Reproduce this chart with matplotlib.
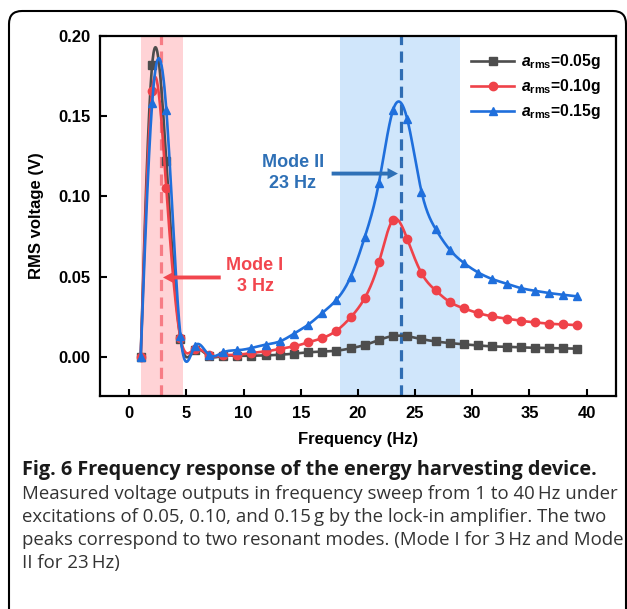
import numpy as np
import matplotlib
matplotlib.use('Agg')
import matplotlib.pyplot as plt
from matplotlib.patches import FancyBboxPatch

# frequency sweep points (Hz)
freq = [1.0, 2.0, 3.24, 4.48, 5.72, 6.96, 8.2, 9.44, 10.68, 11.92, 13.16,
        14.4, 15.64, 16.88, 18.12, 19.36, 20.6, 21.84, 23.08, 24.32, 25.56,
        26.8, 28.04, 29.28, 30.52, 31.76, 33.0, 34.24, 35.48, 36.72, 37.96,
        39.2]

# RMS voltage (V) for each excitation level
v_005 = [0.0, 0.182, 0.122, 0.011, 0.004, 0.0004, 0.0005, 0.0006, 0.0006,
         0.0008, 0.0012, 0.0019, 0.0027, 0.0032, 0.0037, 0.0052, 0.0073,
         0.0104, 0.0129, 0.0127, 0.0110, 0.0095, 0.0085, 0.0077, 0.0070,
         0.0064, 0.0062, 0.0058, 0.0056, 0.0054, 0.0052, 0.0050]
v_010 = [0.0, 0.166, 0.105, 0.0116, 0.0048, 0.001, 0.0008, 0.0012, 0.0023,
         0.0033, 0.0048, 0.0064, 0.0089, 0.0116, 0.0162, 0.0245, 0.0366,
         0.0588, 0.0854, 0.0733, 0.0521, 0.0413, 0.0341, 0.0301, 0.0272,
         0.0251, 0.0237, 0.0224, 0.0214, 0.0206, 0.0201, 0.0197]
v_015 = [0.0, 0.158, 0.154, 0.0127, 0.0064, 0.0012, 0.0027, 0.0040, 0.0054,
         0.0075, 0.0095, 0.0143, 0.0199, 0.0272, 0.0355, 0.0497, 0.0746,
         0.1086, 0.154, 0.148, 0.103, 0.0796, 0.0667, 0.0584, 0.0525,
         0.0484, 0.0455, 0.0428, 0.0411, 0.0397, 0.0386, 0.0376]

labels = [r'$\mathit{a}_{\mathbf{rms}}$=0.05g',
          r'$\mathit{a}_{\mathbf{rms}}$=0.10g',
          r'$\mathit{a}_{\mathbf{rms}}$=0.15g']
colors = ['#4d4d4d', '#ef4249', '#1f6fdc']
markers = ['s', 'o', '^']

mode1_band = (1.0, 4.67)
mode2_band = (18.43, 28.93)
mode1_freq = 2.77
mode2_freq = 23.74

caption_title = 'Fig. 6 Frequency response of the energy harvesting device.'
caption_body = ['Measured voltage outputs in frequency sweep from 1 to 40\u2009Hz under',
                'excitations of 0.05, 0.10, and 0.15\u2009g by the lock-in amplifier. The two',
                'peaks correspond to two resonant modes. (Mode I for 3\u2009Hz and Mode',
                'II for 23\u2009Hz)']


def natural_spline(x, y, n=30):
    """Natural cubic spline through the measured points (Origin-style line)."""
    x = np.asarray(x, float)
    y = np.asarray(y, float)
    k = len(x)
    h = np.diff(x)
    A = np.zeros((k, k))
    r = np.zeros(k)
    A[0, 0] = A[-1, -1] = 1
    for i in range(1, k - 1):
        A[i, i - 1] = h[i - 1]
        A[i, i] = 2 * (h[i - 1] + h[i])
        A[i, i + 1] = h[i]
        r[i] = 6 * ((y[i + 1] - y[i]) / h[i] - (y[i] - y[i - 1]) / h[i - 1])
    M = np.linalg.solve(A, r)
    xs, ys = [], []
    for i in range(k - 1):
        t = np.linspace(x[i], x[i + 1], n, endpoint=False)
        a = x[i + 1] - t
        b = t - x[i]
        s = (M[i] * a ** 3 + M[i + 1] * b ** 3) / (6 * h[i]) \
            + (y[i] / h[i] - M[i] * h[i] / 6) * a \
            + (y[i + 1] / h[i] - M[i + 1] * h[i] / 6) * b
        xs.append(t)
        ys.append(s)
    xs.append([x[-1]])
    ys.append([y[-1]])
    return np.concatenate(xs), np.concatenate(ys)


plt.rcParams['font.family'] = ['Liberation Sans', 'DejaVu Sans']
plt.rcParams['font.weight'] = 'bold'
plt.rcParams['mathtext.fontset'] = 'custom'
plt.rcParams['mathtext.it'] = 'Liberation Sans:italic:bold'
plt.rcParams['mathtext.bf'] = 'Liberation Sans:bold'
plt.rcParams['mathtext.rm'] = 'Liberation Sans:bold'

fig = plt.figure(figsize=(6.27, 6.09), dpi=100)
ax = fig.add_axes([0.1595, 0.3498, 0.8225, 0.5911])

ax.axvspan(*mode1_band, color='#ffd3d6', lw=0, zorder=0)
ax.axvspan(*mode2_band, color='#d0e6fb', lw=0, zorder=0)
ax.axvline(mode1_freq, color='#f77c85', lw=2.3, ls=(0, (3.5, 2)), zorder=1)
ax.axvline(mode2_freq, color='#2f6db3', lw=2.3, ls=(0, (3.5, 2)), zorder=1)

for vals, c, m, lab in zip([v_005, v_010, v_015], colors, markers, labels):
    xs, ys = natural_spline(freq, vals)
    ax.plot(xs, ys, color=c, lw=1.9, zorder=3)
    ax.plot(freq, vals, ls='none', marker=m, ms=6, color=c, zorder=3)
    ax.plot([], [], color=c, lw=1.9, marker=m, ms=6, label=lab)

ax.annotate('', xy=(2.95, 0.0494), xytext=(8.0, 0.0494),
            arrowprops=dict(arrowstyle='simple,head_length=0.75,head_width=0.8,tail_width=0.28',
                            color='#f2464e', lw=0, shrinkA=0, shrinkB=0),
            zorder=4)
ax.text(11.0, 0.0503, 'Mode I\n3 Hz', color='#f2464e', fontsize=13,
        fontweight='bold', ha='center', va='center', linespacing=1.35, zorder=4)

ax.annotate('', xy=(23.5, 0.1142), xytext=(17.7, 0.1142),
            arrowprops=dict(arrowstyle='simple,head_length=0.75,head_width=0.8,tail_width=0.28',
                            color='#2e70b6', lw=0, shrinkA=0, shrinkB=0),
            zorder=4)
ax.text(14.3, 0.1145, 'Mode II\n23 Hz', color='#2e70b6', fontsize=13,
        fontweight='bold', ha='center', va='center', linespacing=1.35, zorder=4)

ax.set_xlim(-2.56, 42.55)
ax.set_ylim(-0.0245, 0.2)
ax.set_xticks(range(0, 41, 5))
ax.set_yticks([0.0, 0.05, 0.10, 0.15, 0.20])
ax.set_yticklabels(['0.00', '0.05', '0.10', '0.15', '0.20'])
ax.tick_params(direction='in', length=5, width=1.5, labelsize=12, pad=7,
               top=False, right=False)
for sp in ax.spines.values():
    sp.set_linewidth(1.6)
ax.set_xlabel('Frequency (Hz)', fontsize=12, fontweight='bold', labelpad=8)
ax.set_ylabel('RMS voltage (V)', fontsize=12, fontweight='bold', labelpad=10)

leg = ax.legend(loc='upper left', bbox_to_anchor=(0.708, 0.972), frameon=False,
                fontsize=11.3, handlelength=2.7, handletextpad=0.45,
                labelspacing=0.38, borderaxespad=0)

# outer rounded frame of the figure panel
frame = FancyBboxPatch((0.09, -0.3), 6.17, 6.28,
                       boxstyle='round,pad=0,rounding_size=0.13',
                       transform=fig.dpi_scale_trans, fill=False,
                       lw=1.5, ec='black', clip_on=False)
fig.patches.append(frame)

fig.text(22 / 627, 1 - 470 / 609, caption_title, fontsize=14.3,
         fontweight='bold', family=['Open Sans', 'DejaVu Sans'],
         color='#1a1a1a', va='center', ha='left')
for i, line in enumerate(caption_body):
    fig.text(22 / 627, 1 - (494 + 23 * i) / 609, line, fontsize=13.4,
             fontweight='normal', family=['Open Sans', 'DejaVu Sans'],
             color='#333333', va='center', ha='left')

fig.savefig('out.png', dpi=100)
